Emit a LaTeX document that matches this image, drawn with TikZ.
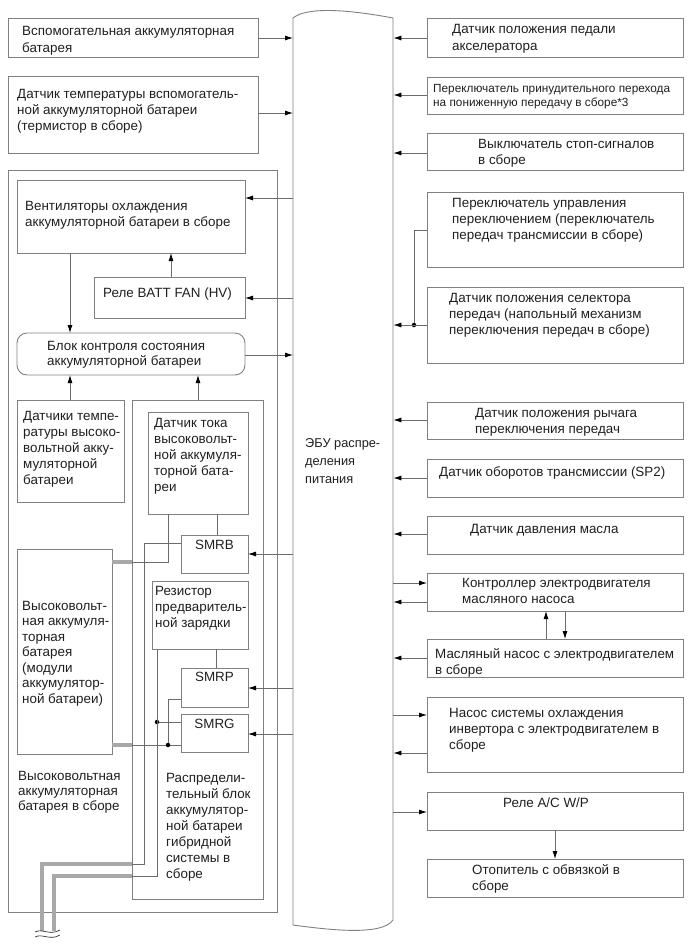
\documentclass[tikz,border=0pt]{standalone}
\usepackage{fontspec}
\setmainfont{Liberation Sans}
\usetikzlibrary{arrows.meta}
\definecolor{boxc}{gray}{0.5}
\definecolor{wirec}{gray}{0.42}
\definecolor{cablec}{gray}{0.66}
\definecolor{txtc}{gray}{0.12}
\newcommand\rbox[6][]{\node[box,#1,minimum width={(#4-#2)*1pt},minimum height={(#5-#3)*1pt}] (#6) at (#2,#3) {};}
\tikzset{
  x=1pt, y=-1pt,
  box/.style={draw=boxc, line width=0.9pt, inner sep=0pt, outer sep=0pt, anchor=north west},
  txt/.style={inner sep=0pt, anchor=north west, align=left, text=txtc,
     font=\fontsize{13.4pt}{16pt}\selectfont, execute at begin node=\vphantom{Б}},
  txts/.style={txt, font=\fontsize{11.8pt}{14pt}\selectfont},
  wire/.style={draw=wirec, line width=0.8pt},
  arr/.style={wire, -{Latex[length=8pt,width=5pt,color=black]}},
  cable/.style={draw=cablec, line width=4.8pt},
  jdot/.style={circle, fill=black, inner sep=0pt, minimum size=4.5pt},
}
\begin{document}
\begin{tikzpicture}
\useasboundingbox (0,0) rectangle (690,951);
% ECU
\node[inner sep=0pt, anchor=north west, minimum width=100pt, minimum height=904pt] (ECU) at (293,18) {};
\draw[draw=boxc, line width=0.9pt] (293,18) .. controls (305,8) and (340,8) .. (393,18)
   -- (393,920) .. controls (382,936) and (330,930) .. (293,925) -- cycle;
\node[txt, font=\fontsize{12.8pt}{18pt}\selectfont] (ECUt) at (305,438) {ЭБУ распре-\\деления\\питания};

% left column
\rbox{8}{18}{258}{57}{L1}
\rbox{8}{76}{258}{153}{L2}
\rbox{8}{170}{277}{912}{HVA}
\rbox{17}{180}{245}{253}{Fan}
\rbox{94}{277}{245}{318}{Rel}
\rbox[rounded corners=10pt]{17}{333}{245}{375}{BMS}
\rbox{17}{400}{124}{502}{TS}
\rbox{132}{400}{263}{899}{Dist}
\rbox{148}{412}{248}{514}{CurS}
\rbox{181}{535}{248}{573}{SMRB}
\rbox{152}{581}{248}{649}{Res}
\rbox{181}{668}{248}{707}{SMRP}
\rbox{181}{714}{248}{752}{SMRG}
\rbox{17}{549}{112}{754}{HVB}

\node[txt, font=\fontsize{13.4pt}{17pt}\selectfont] (L1t) at (22,26) {Вспомогательная аккумуляторная\\батарея};
\node[txt] (L2t) at (17,89) {Датчик температуры вспомогатель-\\ной аккумуляторной батареи\\(термистор в сборе)};
\node[txt] (Fant) at (25,201) {Вентиляторы охлаждения\\аккумуляторной батареи в сборе};
\node[txt] (Relt) at (103,288) {Реле BATT FAN (HV)};
\node[txt, font=\fontsize{13.4pt}{15pt}\selectfont] (BMSt) at (47,341) {Блок контроля состояния\\аккумуляторной батареи};
\node[txt] (TSt) at (23,411) {Датчики темпе-\\ратуры высоко-\\вольтной акку-\\муляторной\\батареи};
\node[txt] (CurSt) at (154,418) {Датчик тока\\высоковольт-\\ной аккумуля-\\торной бата-\\реи};
\node[txt, anchor=north] (SMRBt) at (214.5,540) {SMRB};
\node[txt, anchor=north] (SMRPt) at (214.5,672) {SMRP};
\node[txt, anchor=north] (SMRGt) at (214.5,719) {SMRG};
\node[txt] (Rest) at (155,586) {Резистор\\предваритель-\\ной зарядки};
\node[txt, font=\fontsize{13.4pt}{15.5pt}\selectfont] (HVBt) at (22,601) {Высоковольт-\\ная аккумуля-\\торная\\батарея\\(модули\\аккумулятор-\\ной батареи)};
\node[txt, font=\fontsize{13.4pt}{15pt}\selectfont] (HVAt) at (18,771) {Высоковольтная\\аккумуляторная\\батарея в сборе};
\node[txt] (Distt) at (166,773) {Распредели-\\тельный блок\\аккумулятор-\\ной батареи\\гибридной\\системы в\\сборе};

% left connectors
\draw[arr] (L1.east |- 0,38) -- (ECU.west |- 0,38);
\draw[arr] (L2.east |- 0,113) -- (ECU.west |- 0,113);
\draw[arr] (ECU.west |- 0,198) -- (Fan.east |- 0,198);
\draw[arr] (ECU.west |- 0,298) -- (Rel.east |- 0,298);
\draw[arr] (BMS.east |- 0,355) -- (ECU.west |- 0,355);
\draw[arr] (Rel.north -| 171,0) -- (Fan.south -| 171,0);
\draw[arr] (Fan.south -| 70,0) -- (BMS.north -| 70,0);
\draw[arr] (TS.north -| 70,0) -- (BMS.south -| 70,0);
\draw[arr] (Dist.north -| 198,0) -- (BMS.south -| 198,0);
\draw[arr] (ECU.west |- 0,554) -- (SMRB.east |- 0,554);
\draw[arr] (ECU.west |- 0,688) -- (SMRP.east |- 0,688);
\draw[arr] (ECU.west |- 0,734) -- (SMRG.east |- 0,734);

% internal wiring
\draw[wire] (CurS.south -| 217,0) -- (SMRB.north -| 217,0);
\draw[wire] (Res.south -| 216,0) -- (SMRP.north -| 216,0);
\draw[wire] (CurS.south -| 168,0) |- (Dist.west |- 0,562);
\draw[cable] (HVB.east |- 0,562) -- (Dist.west |- 0,562);
\draw[cable] (HVB.east |- 0,745) -- (Dist.west |- 0,745);
\draw[wire] (Dist.west |- 0,745) -- (SMRG.west |- 0,745);
\node[jdot] (d2) at (168,745) {};
\draw[wire] (SMRP.west |- 0,699) -| (d2);
\node[jdot] (d1) at (157,722) {};
\draw[wire] (d1) -- (SMRG.west |- d1);
\draw[wire] (SMRB.west |- 0,543) -| (144,864) -- (Dist.west |- 0,864);
\draw[wire] (Res.south -| 157,0) |- (Dist.west |- 0,876);
\coordinate (cA) at (42,931);
\coordinate (cB) at (54,931);
\draw[cable] (Dist.west |- 0,864) -| (cA);
\draw[cable] (Dist.west |- 0,876) -| (cB);
\draw[draw=txtc, line width=0.6pt] (35,932) .. controls (42,928) and (50,936) .. (60,930);
\draw[draw=txtc, line width=0.6pt] (35,937) .. controls (42,933) and (50,941) .. (60,935);

% right column
\rbox{427}{18}{683}{57}{R1}
\rbox{427}{77}{683}{114}{R2}
\rbox{427}{133}{683}{170}{R3}
\rbox{427}{192}{683}{267}{R4}
\rbox{427}{287}{683}{363}{R5}
\rbox{427}{402}{683}{439}{R6}
\rbox{427}{459}{683}{497}{R7}
\rbox{427}{516}{683}{554}{R8}
\rbox{427}{573}{683}{611}{R9}
\rbox{427}{639}{683}{677}{R10}
\rbox{427}{697}{683}{772}{R11}
\rbox{427}{792}{683}{830}{R12}
\rbox{427}{859}{683}{897}{R13}

\node[txt, font=\fontsize{13.4pt}{17pt}\selectfont] (R1t) at (452,24) {Датчик положения педали\\акселератора};
\node[txts] (R2t) at (433,84) {Переключатель принудительного перехода\\на пониженную передачу в сборе*3};
\node[txt] (R3t) at (478,139) {Выключатель стоп-сигналов\\в сборе};
\node[txt] (R4t) at (452,198) {Переключатель управления\\переключением (переключатель\\передач трансмиссии в сборе)};
\node[txt] (R5t) at (449,293) {Датчик положения селектора\\передач (напольный механизм\\переключения передач в сборе)};
\node[txt] (R6t) at (475,408) {Датчик положения рычага\\переключения передач};
\node[txt] (R7t) at (439,466) {Датчик оборотов трансмиссии (SP2)};
\node[txt] (R8t) at (470,524) {Датчик давления масла};
\node[txt] (R9t) at (462,578) {Контроллер электродвигателя\\масляного насоса};
\node[txt] (R10t) at (435,648) {Масляный насос с электродвигателем\\в сборе};
\node[txt] (R11t) at (449,708) {Насос системы охлаждения\\инвертора с электродвигателем в\\сборе};
\node[txt] (R12t) at (503,798) {Реле A/C W/P};
\node[txt] (R13t) at (472,864) {Отопитель с обвязкой в\\сборе};

% right connectors
\draw[arr] (R1.west |- 0,38) -- (ECU.east |- 0,38);
\draw[arr] (R2.west |- 0,95) -- (ECU.east |- 0,95);
\draw[arr] (R3.west |- 0,153) -- (ECU.east |- 0,153);
\node[jdot] (j1) at (414,325) {};
\draw[wire] (R4.west |- 0,230) -| (j1);
\draw[arr] (R5.west |- 0,325) -- (ECU.east |- 0,325);
\draw[arr] (R6.west |- 0,420) -- (ECU.east |- 0,420);
\draw[arr] (R7.west |- 0,478) -- (ECU.east |- 0,478);
\draw[arr] (R8.west |- 0,534) -- (ECU.east |- 0,534);
\draw[arr] (ECU.east |- 0,583) -- (R9.west |- 0,583);
\draw[arr] (R9.west |- 0,602) -- (ECU.east |- 0,602);
\draw[arr] (R10.north -| 546,0) -- (R9.south -| 546,0);
\draw[arr] (R9.south -| 565,0) -- (R10.north -| 565,0);
\draw[arr] (R10.west |- 0,658) -- (ECU.east |- 0,658);
\draw[arr] (ECU.east |- 0,715) -- (R11.west |- 0,715);
\draw[arr] (R11.west |- 0,753) -- (ECU.east |- 0,753);
\draw[arr] (ECU.east |- 0,812) -- (R12.west |- 0,812);
\draw[arr] (R12.south -| 555,0) -- (R13.north -| 555,0);
\end{tikzpicture}
\end{document}
